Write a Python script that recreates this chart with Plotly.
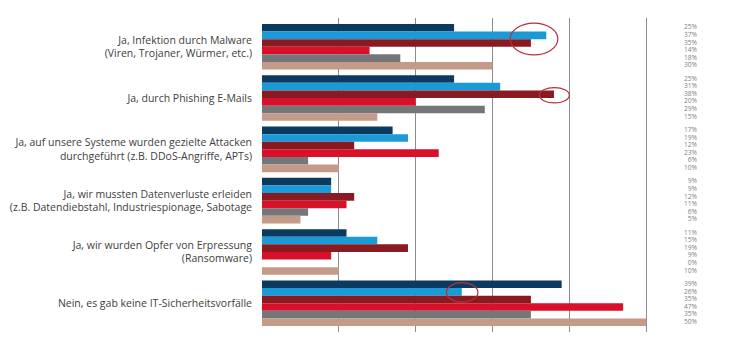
import plotly.graph_objects as go

categories = [
    "Ja, Infektion durch Malware<br>(Viren, Trojaner, Würmer, etc.)",
    "Ja, durch Phishing E-Mails",
    "Ja, auf unsere Systeme wurden gezielte Attacken<br>durchgeführt (z.B. DDoS-Angriffe, APTs)",
    "Ja, wir mussten Datenverluste erleiden<br>(z.B. Datendiebstahl, Industriespionage, Sabotage",
    "Ja, wir wurden Opfer von Erpressung<br>(Ransomware)",
    "Nein, es gab keine IT-Sicherheitsvorfälle",
]

series_1 = [25, 25, 17, 9, 11, 39]
series_2 = [37, 31, 19, 9, 15, 26]
series_3 = [35, 38, 12, 12, 19, 35]
series_4 = [14, 20, 23, 11, 9, 47]
series_5 = [18, 29, 6, 6, 0, 35]
series_6 = [30, 15, 10, 5, 10, 50]

series = [series_1, series_2, series_3, series_4, series_5, series_6]
colors = ["#0b3a60", "#1b9ad8", "#8a1a22", "#d8102a", "#75767a", "#c49a88"]

# highlighted bars: (category index, series index)
highlights = [(0, 1), (1, 2), (5, 1)]

n = len(series)
w = 0.148
fig = go.Figure()

def ypos(i, j):
    return i + (j - (n - 1) / 2) * w

for j, vals in enumerate(series):
    ys = [ypos(i, j) for i in range(len(categories))]
    fig.add_trace(go.Bar(
        x=vals, y=ys, orientation="h", width=w,
        marker=dict(color=colors[j], line=dict(width=0)),
        showlegend=False, hoverinfo="skip",
    ))

# percentage labels on the right
lab_x, lab_y, lab_t = [], [], []
for i in range(len(categories)):
    for j, vals in enumerate(series):
        lab_x.append(56.6)
        lab_y.append(ypos(i, j))
        lab_t.append(f"{vals[i]}%")
fig.add_trace(go.Scatter(
    x=lab_x, y=lab_y, text=lab_t, mode="text", textposition="middle left",
    textfont=dict(family="Open Sans", size=6.6, color="#7f7f7f"),
    showlegend=False, hoverinfo="skip",
))

shape_specs = [(-4.7, 1.5, 0.07, 0.31), (-1.9, 2.0, 0.02, 0.15), (-2.0, 2.1, 0.01, 0.19)]
for (i, j), (dl, dr, dy, hh) in zip(highlights, shape_specs):
    v = series[j][i]
    yc = ypos(i, j) + dy
    fig.add_shape(type="circle", xref="x", yref="y",
                  x0=v + dl, x1=v + dr, y0=yc - hh, y1=yc + hh,
                  line=dict(color="#b5303c", width=1.2))

fig.update_layout(
    width=730, height=340,
    margin=dict(l=262, r=7, t=18, b=8),
    paper_bgcolor="white", plot_bgcolor="white",
    barmode="overlay",
    xaxis=dict(range=[0, 60], tickvals=[0, 10, 20, 30, 40, 50, 60],
               showticklabels=False, showgrid=True, gridcolor="#8c8c8c",
               gridwidth=1, zeroline=False, showline=False),
    yaxis=dict(range=[5.56, -0.56], tickvals=list(range(len(categories))),
               ticktext=categories, showgrid=False, zeroline=False,
               ticks="", ticklabelstandoff=9,
               tickfont=dict(family="Open Sans", size=10.5, color="#404040")),
)

fig.write_html("out.html")
